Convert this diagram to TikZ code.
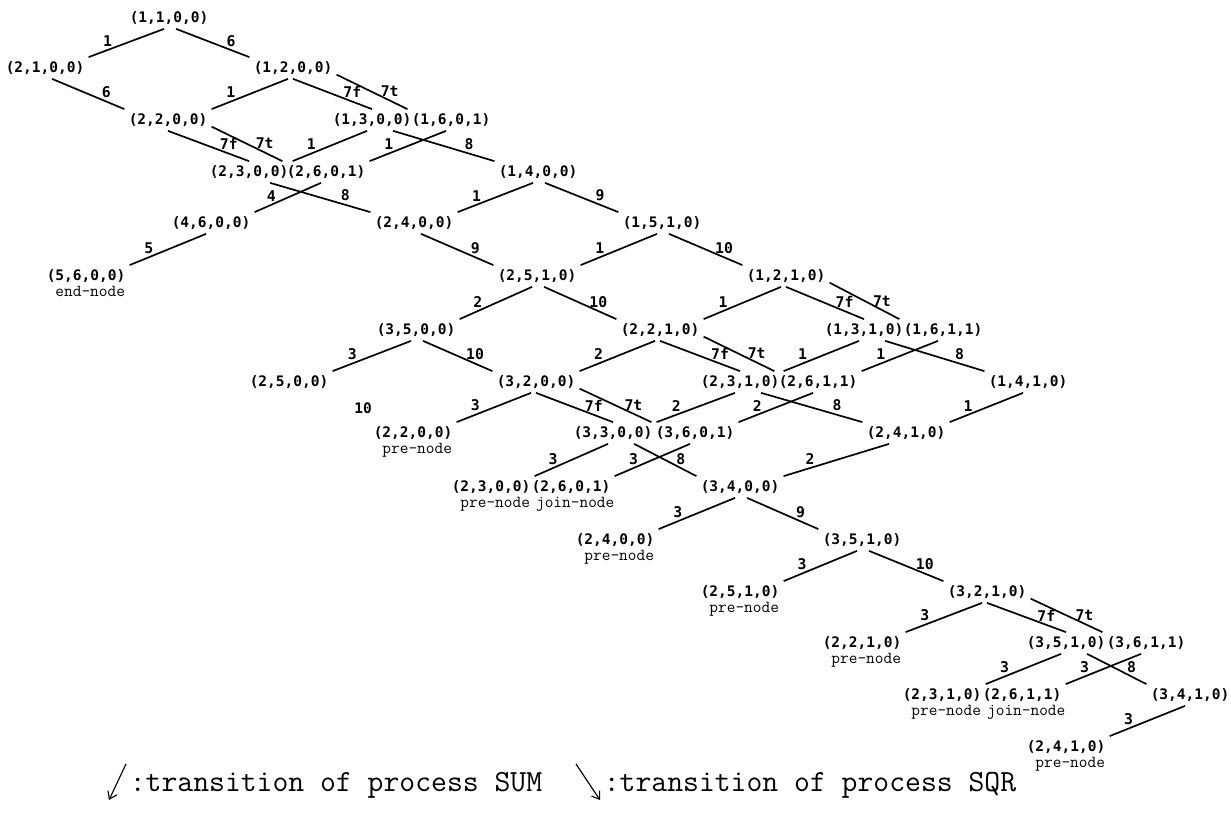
\documentclass[tikz,border=0pt]{standalone}
\usepackage{fontspec}
\newfontfamily\tupfont{DejaVu Sans Mono}
\usetikzlibrary{arrows.meta}

\begin{document}
\begin{tikzpicture}[x=0.025cm,y=-0.025cm,line width=1.2pt,
  tuple/.style={inner sep=2.5pt,font=\tupfont\bfseries\fontsize{10.3}{12}\selectfont},
  lab/.style={pos=0.75,above=1pt,inner sep=1pt,font=\tupfont\bfseries\fontsize{10.5}{12}\selectfont},
  note/.style={inner sep=0pt,xshift=3pt,yshift=1pt,font=\ttfamily\fontsize{12}{14}\selectfont},
  kind/.style={label={[note]below:#1}},
  legend/.style={inner sep=0pt,font=\ttfamily\fontsize{21.9}{26}\selectfont}]
\useasboundingbox (0,0) rectangle (1231,821);

\node[tuple] (1100) at (169,18) {(1,1,0,0)};
\node[tuple] (2100) at (45,68) {(2,1,0,0)};  \node[tuple] (1200) at (293,68) {(1,2,0,0)};
\node[tuple] (2200) at (168,120) {(2,2,0,0)};  \node[tuple] (1300) at (372,120) {(1,3,0,0)};
\node[tuple] (1601) at (451,120) {(1,6,0,1)};
\node[tuple] (2300) at (249,172) {(2,3,0,0)};  \node[tuple] (2601) at (326,172) {(2,6,0,1)};
\node[tuple] (1400) at (538,172) {(1,4,0,0)};
\node[tuple] (4600) at (211,223) {(4,6,0,0)};  \node[tuple] (2400) at (414,223) {(2,4,0,0)};
\node[tuple] (1510) at (662,223) {(1,5,1,0)};
\node[tuple,kind=end-node] (5600) at (86,276) {(5,6,0,0)};
\node[tuple] (2510) at (537,276) {(2,5,1,0)};  \node[tuple] (1210) at (786,276) {(1,2,1,0)};
\node[tuple] (3500) at (416,330) {(3,5,0,0)};  \node[tuple] (2210) at (660,330) {(2,2,1,0)};
\node[tuple] (1310) at (864,330) {(1,3,1,0)};  \node[tuple] (1611) at (943,330) {(1,6,1,1)};
\node[tuple] (2500) at (289,382) {(2,5,0,0)};  \node[tuple] (3200) at (536,382) {(3,2,0,0)};
\node[tuple] (2310) at (740,382) {(2,3,1,0)};  \node[tuple] (2611) at (818,382) {(2,6,1,1)};
\node[tuple] (1410) at (1028,382) {(1,4,1,0)};
\node[tuple,inner sep=1pt] (stray) at (363,408) {10};
\node[tuple,kind=pre-node] (p2200) at (413,433) {(2,2,0,0)};
\node[tuple] (3300) at (613,433) {(3,3,0,0)};  \node[tuple] (3601) at (695,433) {(3,6,0,1)};
\node[tuple] (2410) at (906,433) {(2,4,1,0)};
\node[tuple,kind=pre-node] (p2300) at (491,487) {(2,3,0,0)};
\node[tuple,kind=join-node] (j2601) at (571,487) {(2,6,0,1)};
\node[tuple] (3400) at (740,487) {(3,4,0,0)};
\node[tuple,kind=pre-node] (p2400) at (615,540) {(2,4,0,0)};
\node[tuple] (3510) at (862,540) {(3,5,1,0)};
\node[tuple,kind=pre-node] (p2510) at (740,592) {(2,5,1,0)};
\node[tuple] (3210) at (987,592) {(3,2,1,0)};
\node[tuple,kind=pre-node] (p2210) at (862,643) {(2,2,1,0)};
\node[tuple] (3510b) at (1066,643) {(3,5,1,0)};  \node[tuple] (3611) at (1146,643) {(3,6,1,1)};
\node[tuple,kind=pre-node] (p2310) at (942,695) {(2,3,1,0)};
\node[tuple,kind=join-node] (j2611) at (1022,695) {(2,6,1,1)};
\node[tuple] (3410) at (1190,695) {(3,4,1,0)};
\node[tuple,kind=pre-node] (p2410) at (1066,747) {(2,4,1,0)};

\path [-] ([xshift=-3.5pt]1100.south) edge node[lab] {1} (2100.north east);
\path [-] ([xshift=5pt]1100.south) edge node[lab] {6} (1200.north west);
\path [-] ([xshift=5pt]2100.south) edge node[lab] {6} (2200.north west);
\path [-] ([xshift=-3.5pt]1200.south) edge node[lab] {1} (2200.north east);
\path [-] (1200.south) edge node[lab] {7f} (1300.north);
\path [-] ([yshift=3pt]1200.south east) edge node[lab] {7t} (1601.north west);
\path [-] (2200.south) edge node[lab] {7f} (2300.north);
\path [-] ([yshift=3pt]2200.south east) edge node[lab] {7t} (2601.north west);
\path [-] ([xshift=-3.5pt]1300.south) edge node[lab] {1} (2300.north east);
\path [-] ([xshift=-3.5pt]1601.south) edge node[lab] {1} (2601.north east);
\path [-] ([xshift=15pt]1300.south) edge node[lab] {8} (1400.north west);
\path [-] ([xshift=15pt]2300.south) edge node[lab] {8} (2400.north west);
\path [-] ([xshift=-3.5pt]2601.south) edge node[lab] {4} (4600.north east);
\path [-] ([xshift=-3.5pt]4600.south) edge node[lab] {5} (5600.north east);
\path [-] ([xshift=-3.5pt]1400.south) edge node[lab] {1} (2400.north east);
\path [-] ([xshift=5pt]1400.south) edge node[lab] {9} (1510.north west);
\path [-] ([xshift=5pt]2400.south) edge node[lab] {9} (2510.north west);
\path [-] ([xshift=-3.5pt]1510.south) edge node[lab] {1} (2510.north east);
\path [-] ([xshift=5pt]1510.south) edge node[lab] {10} (1210.north west);
\path [-] ([xshift=-3.5pt]2510.south) edge node[lab] {2} (3500.north east);
\path [-] ([xshift=5pt]2510.south) edge node[lab] {10} (2210.north west);
\path [-] ([xshift=-3.5pt]1210.south) edge node[lab] {1} (2210.north east);
\path [-] (1210.south) edge node[lab] {7f} (1310.north);
\path [-] ([yshift=3pt]1210.south east) edge node[lab] {7t} (1611.north west);
\path [-] ([xshift=-3.5pt]3500.south) edge node[lab] {3} (2500.north east);
\path [-] ([xshift=5pt]3500.south) edge node[lab] {10} (3200.north west);
\path [-] ([xshift=-3.5pt]2210.south) edge node[lab] {2} (3200.north east);
\path [-] (2210.south) edge node[lab] {7f} (2310.north);
\path [-] ([yshift=3pt]2210.south east) edge node[lab] {7t} (2611.north west);
\path [-] ([xshift=-3.5pt]1310.south) edge node[lab] {1} (2310.north east);
\path [-] ([xshift=-3.5pt]1611.south) edge node[lab] {1} (2611.north east);
\path [-] ([xshift=15pt]1310.south) edge node[lab] {8} (1410.north west);
\path [-] ([xshift=-3.5pt]3200.south) edge node[lab] {3} (p2200.north east);
\path [-] (3200.south) edge node[lab] {7f} (3300.north);
\path [-] ([yshift=3pt]3200.south east) edge node[lab] {7t} (3601.north west);
\path [-] ([xshift=-3.5pt]2310.south) edge node[lab] {2} (3300.north east);
\path [-] ([xshift=-3.5pt]2611.south) edge node[lab] {2} (3601.north east);
\path [-] ([xshift=15pt]2310.south) edge node[lab] {8} (2410.north west);
\path [-] ([xshift=-3.5pt]1410.south) edge node[lab] {1} (2410.north east);
\path [-] ([xshift=-3.5pt]3300.south) edge node[lab] {3} (p2300.north east);
\path [-] ([xshift=-3.5pt]3601.south) edge node[lab] {3} (j2601.north east);
\path [-] ([xshift=15pt]3300.south) edge node[lab] {8} (3400.north west);
\path [-] ([xshift=-12pt]2410.south) edge node[lab] {2} (3400.north east);
\path [-] ([xshift=-3.5pt]3400.south) edge node[lab] {3} (p2400.north east);
\path [-] ([xshift=5pt]3400.south) edge node[lab] {9} (3510.north west);
\path [-] ([xshift=-3.5pt]3510.south) edge node[lab] {3} (p2510.north east);
\path [-] ([xshift=5pt]3510.south) edge node[lab] {10} (3210.north west);
\path [-] ([xshift=-3.5pt]3210.south) edge node[lab] {3} (p2210.north east);
\path [-] (3210.south) edge node[lab] {7f} (3510b.north);
\path [-] ([yshift=3pt]3210.south east) edge node[lab] {7t} (3611.north west);
\path [-] ([xshift=-3.5pt]3510b.south) edge node[lab] {3} (p2310.north east);
\path [-] ([xshift=-3.5pt]3611.south) edge node[lab] {3} (j2611.north east);
\path [-] ([xshift=15pt]3510b.south) edge node[lab] {8} (3410.north west);
\path [-] ([xshift=-3.5pt]3410.south) edge node[lab] {3} (p2410.north east);

% legend
\coordinate (suma) at (126,764);  \coordinate (sumb) at (109,800);
\draw [-{Straight Barb[length=5pt,width=7pt]},line width=0.8pt] (suma) -- (sumb);
\node[legend,anchor=west] (sumtxt) at (129,785) {:transition of process SUM};
\coordinate (sqra) at (576,764);  \coordinate (sqrb) at (600,800);
\draw [-{Straight Barb[length=5pt,width=7pt]},line width=0.8pt] (sqra) -- (sqrb);
\node[legend,anchor=west] (sqrtxt) at (603,785) {:transition of process SQR};
\end{tikzpicture}
\end{document}
